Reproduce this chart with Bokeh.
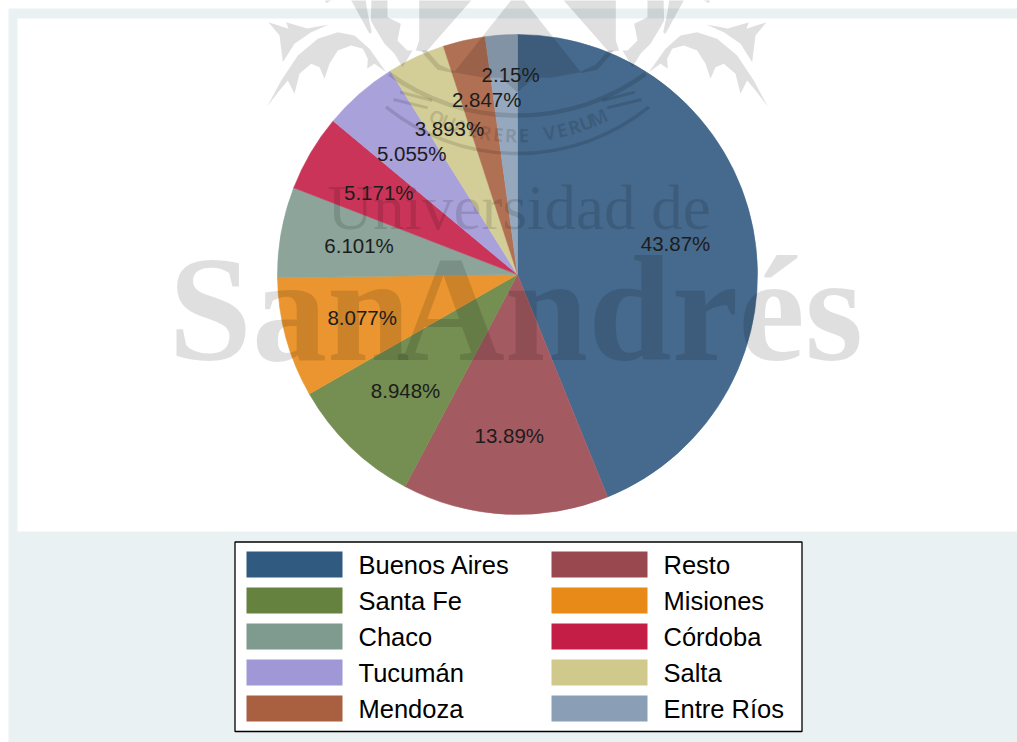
import math
from bokeh.plotting import figure
from bokeh.core.properties import value
from bokeh.embed import file_html
from bokeh.resources import INLINE

categories = ["Buenos Aires", "Resto", "Santa Fe", "Misiones", "Chaco",
              "Córdoba", "Tucumán", "Salta", "Mendoza", "Entre Ríos"]
shares = [43.87, 13.89, 8.948, 8.077, 6.101, 5.171, 5.055, 3.893, 2.847, 2.15]
share_labels = ["43.87%", "13.89%", "8.948%", "8.077%", "6.101%",
                "5.171%", "5.055%", "3.893%", "2.847%", "2.15%"]
colors = ["#315a80", "#9a4850", "#66823f", "#e88a18", "#7f9a8e",
          "#c41e46", "#a097d6", "#cfc98c", "#a86040", "#8a9fb6"]

BG = "#e9f1f3"
W, H = 1017, 742
p = figure(width=W, height=H, x_range=(0, W), y_range=(0, H),
           output_backend="svg", toolbar_location=None, min_border=0,
           background_fill_color="white", border_fill_color="white", outline_line_color=None)
p.axis.visible = False
p.grid.visible = False


def Y(y):  # reference pixels measured from the top -> data coordinate
    return H - y


# chart background and white plot region
p.quad(left=8, right=W, top=Y(8), bottom=0, fill_color=BG, line_color=None)
p.quad(left=17, right=W, top=Y(18), bottom=Y(531), fill_color="white", line_color=None)

# pie
CX, CY, R = 517, 274, 240
total = sum(shares)
cum = 0.0
mids = []
for name, s, c in zip(categories, shares, colors):
    a0 = math.pi / 2 - 2 * math.pi * cum / total
    cum += s
    a1 = math.pi / 2 - 2 * math.pi * cum / total
    mids.append((a0 + a1) / 2)
    p.wedge(x=CX, y=Y(CY), radius=R, start_angle=a0, end_angle=a1, direction="clock",
            fill_color=c, line_color=c, line_width=0.5)
p.circle(x=CX, y=Y(CY), radius=R, fill_color="white", fill_alpha=0.1, line_color=None)

# watermark
A = 0.125
serif = value("Liberation Serif")
def mark(x, y, txt, size, style):
    p.text(x=[x], y=[Y(y - 0.36 * size)], text=[txt], text_font=serif, text_font_size=f"{size}px",
           text_font_style=style, text_baseline="alphabetic", text_color="black", text_alpha=A)
mark(327, 230, "Universidad de", 63, "normal")
mark(168, 362, "San", 150, "bold")
mark(396, 362, "Andrés", 150, "bold")


def z(points, origin=517):
    return [origin + a / 3 for a, _ in points], [Y(b / 3) for _, b in points]


def mirrored(xs):
    return [1034 - x for x in xs]


def both(points, origin):
    sx, sy = z(points, origin)
    p.patch(sx, sy, fill_color="black", fill_alpha=A, line_color=None)
    p.patch(mirrored(sx), sy, fill_color="black", fill_alpha=A, line_color=None)


centre = [(0, -25), (190, 215), (100, 232), (50, 232), (0, 275)]
cx, cy = z(centre)
p.patch(cx + mirrored(cx)[::-1], cy + cy[::-1], fill_color="black", fill_alpha=A, line_color=None)

both([(130, -10), (295, -10), (295, 120), (305, 150), (275, 155)], 517)
both([(190, 218), (240, 208), (278, 165), (288, 150), (272, 150), (235, 192), (190, 212)], 517)
both([(390, -10), (438, -10), (440, 60), (429, 80), (399, 130), (369, 160), (345, 200),
      (315, 150), (330, 150), (360, 120), (350, 70), (390, 50)], 517)
# thistle: crescent, body, stem
both([(197, 72), (262, 84), (325, 65), (318, 85), (378, 65), (345, 105), (335, 185),
      (300, 130), (250, 95)], 640)
both([(25, 215), (75, 145), (120, 105), (170, 95), (230, 115), (290, 165), (340, 240), (382, 318),
      (345, 270), (320, 240), (300, 280), (285, 220), (250, 190), (225, 200), (210, 235),
      (195, 190), (170, 150), (130, 135), (95, 145), (80, 175), (82, 205), (60, 190)], 640)
both([(88, -10), (135, -10), (105, 45), (75, 100), (68, 95), (80, 40)], 640)
both([(172, -10), (212, -10), (205, 8)], 640)

# emblem arcs and motto
p.arc(x=517, y=Y(-56), radius=209, start_angle=math.radians(-129), end_angle=math.radians(-51),
      line_color="black", line_alpha=A, line_width=3.5)
p.arc(x=517, y=Y(-103), radius=218, start_angle=math.radians(-126), end_angle=math.radians(-54),
      line_color="black", line_alpha=A, line_width=4.5)
for seg in ([(262, 300), (358, 275)], [(275, 322), (378, 297)]):
    sx, sy = z(seg, 515)
    p.line(sx, sy, line_color="black", line_alpha=A, line_width=3)
    p.line(mirrored(sx), sy, line_color="black", line_alpha=A, line_width=3)

motto = "QUAERERE VERUM"
step = 3.85
for i, ch in enumerate(motto):
    t = math.radians((i - (len(motto) - 1) / 2) * step)
    p.text(x=[517 + 191 * math.sin(t)], y=[Y(-56 + 191 * math.cos(t))], text=[ch],
           angle=[t], text_font=value("Open Sans"), text_font_size="19px", text_font_style="bold",
           text_align="center", text_baseline="middle", text_color="black", text_alpha=A)

# share labels
LABEL_R = 161
nudges = {8: (5, -18), 9: (4, -39)}
for i, (txt, a) in enumerate(zip(share_labels, mids)):
    dx, dy = nudges.get(i, (0, 0))
    p.text(x=[CX + LABEL_R * math.cos(a) + dx], y=[Y(CY - LABEL_R * math.sin(a) + dy)], text=[txt],
           text_font=value("Liberation Sans"), text_font_size="20.5px",
           text_align="center", text_baseline="middle", text_color="#1c1c1c")

# legend
p.quad(left=234.5, right=801.5, top=Y(541.5), bottom=Y(731), fill_color="white", line_color="black", line_width=1.3)
for i, (name, c) in enumerate(zip(categories, colors)):
    row, col = i // 2, i % 2
    x0 = 246 + col * 305
    y0 = 551 + row * 36
    p.quad(left=x0, right=x0 + 96, top=Y(y0), bottom=Y(y0 + 26), fill_color=c, line_color=None)
    p.text(x=[x0 + 112], y=[Y(y0 + 13.5)], text=[name], text_font=value("Liberation Sans"),
           text_font_size="25.5px", text_baseline="middle", text_color="black")

open("out.html", "w").write(file_html(p, INLINE))
